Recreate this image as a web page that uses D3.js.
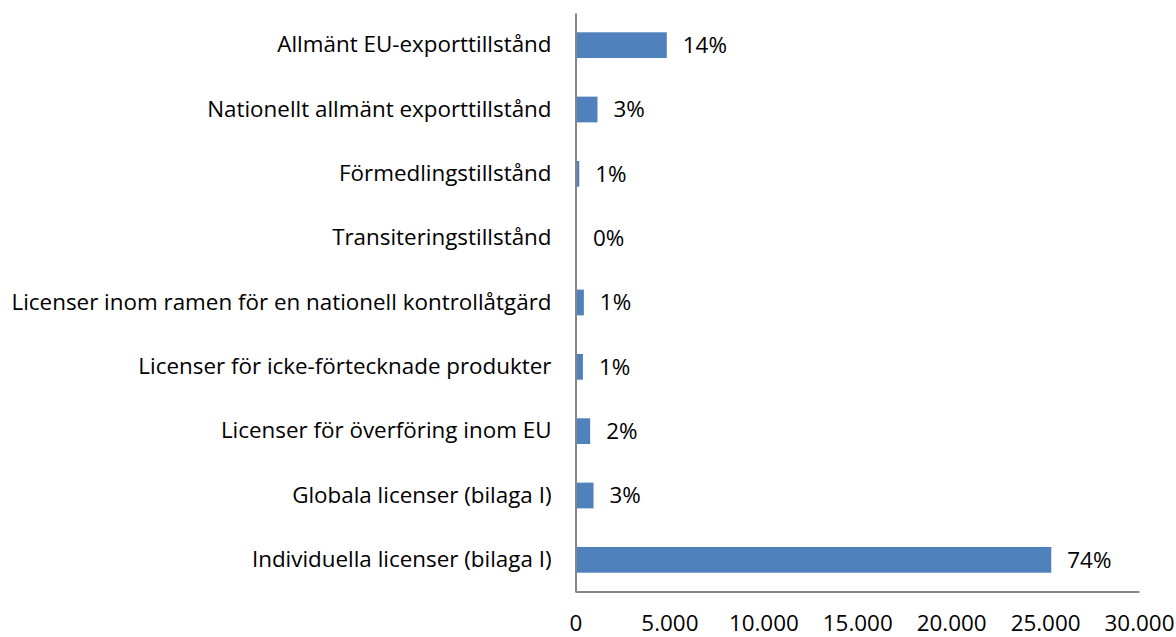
<!DOCTYPE html>
<html><head><meta charset="utf-8">
<script src="https://cdn.jsdelivr.net/npm/d3@7"></script>
<style>body{margin:0;background:#fff}svg{display:block}</style>
</head><body>
<svg id="c" width="1176" height="637"></svg>
<script>
const categories = [
  "Allmänt EU-exporttillstånd",
  "Nationellt allmänt exporttillstånd",
  "Förmedlingstillstånd",
  "Transiteringstillstånd",
  "Licenser inom ramen för en nationell kontrollåtgärd",
  "Licenser för icke-förtecknade produkter",
  "Licenser för överföring inom EU",
  "Globala licenser (bilaga I)",
  "Individuella licenser (bilaga I)"
];
const values = [4860, 1170, 200, 75, 445, 395, 780, 960, 25330];
const pctLabels = ["14%", "3%", "1%", "0%", "1%", "1%", "2%", "3%", "74%"];
const xTicks = [0, 5000, 10000, 15000, 20000, 25000, 30000];
const xTickLabels = ["0", "5.000", "10.000", "15.000", "20.000", "25.000", "30.000"];

const svg = d3.select("#c");
const font = "'Open Sans', 'Liberation Sans', sans-serif";
const fs = 22.4;
const x = d3.scaleLinear().domain([0, 30000]).range([575.5, 1139]);
const y = d3.scaleBand().domain(categories).range([13, 592]).paddingInner(0.6).paddingOuter(0.3);

svg.append("g").selectAll("rect").data(categories).join("rect")
  .attr("x", x(0)).attr("y", d => y(d))
  .attr("width", (d,i) => x(values[i]) - x(0))
  .attr("height", y.bandwidth())
  .attr("fill", "#4f81bd");

const xAxis = d3.axisBottom(x).tickValues(xTicks).tickFormat((d,i) => xTickLabels[i]).tickSize(0);
const gx = svg.append("g").attr("transform", "translate(0,591.5)").call(xAxis);
gx.select(".domain").attr("stroke", "#868686").attr("stroke-width", 2);
gx.selectAll("text").attr("font-family", font).attr("font-size", fs).attr("fill", "#000")
  .attr("dy", null).attr("y", 39);

const yAxis = d3.axisLeft(y).tickSize(0).tickPadding(24);
const gy = svg.append("g").attr("transform", "translate(575.5,0)").call(yAxis);
gy.select(".domain").attr("stroke", "#868686").attr("stroke-width", 2);
gy.selectAll("text").attr("font-family", font).attr("font-size", fs).attr("fill", "#000");

svg.append("g").selectAll("text").data(categories).join("text")
  .attr("x", (d,i) => x(values[i]) + 16)
  .attr("y", d => y(d) + y.bandwidth()/2)
  .attr("dy", "0.35em")
  .attr("font-family", font).attr("font-size", fs).attr("fill", "#000")
  .text((d,i) => pctLabels[i]);
</script>
</body></html>
